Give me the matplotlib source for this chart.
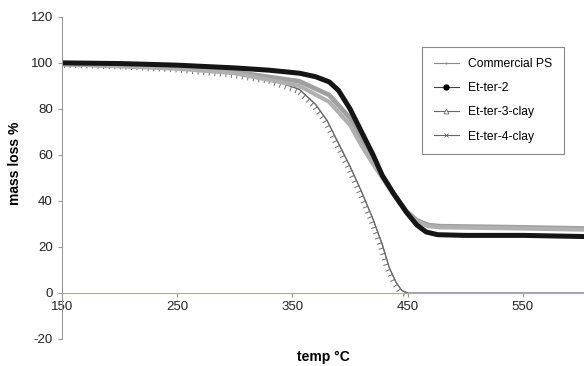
import matplotlib.pyplot as plt
import matplotlib.patheffects as pe
import numpy as np

plt.rcParams["font.family"] = ["Liberation Sans", "DejaVu Sans"]
plt.rcParams["axes.unicode_minus"] = False

# TGA curves: temperature (°C) vs remaining mass (%)
temp_ps = [150, 200, 250, 300, 330, 356, 370, 380, 390, 400, 410, 420, 428, 434, 440, 445, 450, 500, 603]
mass_ps = [100, 99.3, 98, 95.5, 93, 88.5, 82, 75, 65, 55, 44, 32, 21, 11, 4.5, 1, 0, 0, 0]

temp_et2 = [150, 200, 250, 300, 330, 356, 370, 382, 390, 400, 410, 420, 428, 438, 449, 458, 466, 476, 500, 550, 603]
mass_et2 = [100, 99.7, 99, 97.8, 96.8, 95.5, 94, 91.7, 88, 80, 70, 60, 51, 43, 35, 29.5, 26.5, 25.3, 25, 25, 24.5]

temp_et3 = [150, 250, 300, 356, 382, 400, 410, 420, 428, 438, 449, 458, 468, 478, 550, 603]
mass_et3 = [99.5, 98, 96, 92, 86, 76, 67, 58, 51, 43, 35.5, 31.5, 29.5, 29, 28.5, 28]

temp_et4 = [150, 250, 300, 356, 382, 400, 410, 420, 428, 438, 449, 458, 468, 478, 550, 603]
mass_et4 = [99.5, 97.5, 95.5, 90, 83, 73, 64, 56, 50, 42.5, 35, 31, 29, 28.5, 28, 27.5]

fig = plt.figure(figsize=(5.84, 3.66), dpi=100)
ax = fig.add_axes([0.106, 0.074, 0.894, 0.880])

# commercial PS: plain line, tick marks only along the falling part
n_fall = mass_ps.index(0) + 1
ax.plot(temp_ps, mass_ps, color="#7a7a8a", lw=0.9)
ax.plot(temp_ps[:n_fall], mass_ps[:n_fall], color="#6a6a6a", lw=0.8,
        path_effects=[pe.withTickedStroke(spacing=4, angle=-90, length=0.8, linewidth=0.7)])
ax.plot(temp_et3, mass_et3, color="#a0a0a0", lw=3.4)
ax.plot(temp_et4, mass_et4, color="#b0b0b0", lw=3.0)
ax.plot(temp_et2, mass_et2, color="#151515", lw=3.6)

# legend handles with the small markers
h_ps, = ax.plot([], [], color="#8a8a8a", lw=0.8, marker="|", ms=2)
h_e2, = ax.plot([], [], color="#444444", lw=0.8, marker="o", ms=3.5, mfc="black", mec="black")
h_e3, = ax.plot([], [], color="#666666", lw=0.8, marker="^", ms=3.5, mfc="white", mec="#666666", mew=0.6)
h_e4, = ax.plot([], [], color="#666666", lw=0.8, marker="x", ms=3.5, mec="#666666", mew=0.6)
leg = ax.legend([h_ps, h_e2, h_e3, h_e4],
                ["Commercial PS", "Et-ter-2", "Et-ter-3-clay", "Et-ter-4-clay"],
                loc="upper left", bbox_to_anchor=(0.690, 0.907), borderaxespad=0,
                fancybox=False, framealpha=1, edgecolor="#888888", fontsize=8.7,
                handlelength=2.1, labelspacing=1.0, borderpad=0.95, handletextpad=0.75)
leg.get_frame().set_linewidth(0.8)

ax.set_xlim(150, 603)
ax.set_ylim(-20, 120)
ax.set_xticks([150, 250, 350, 450, 550])
ax.set_yticks(np.arange(-20, 121, 20))
ax.spines["bottom"].set_position(("data", 0))
ax.spines["bottom"].set_color("#a8b09a")
ax.spines["left"].set_color("#999999")
ax.spines["top"].set_visible(False)
ax.spines["right"].set_visible(False)
ax.tick_params(axis="x", direction="out", length=3, color="#999999", labelsize=9.5, pad=3)
ax.tick_params(axis="y", direction="out", length=3, color="#999999", labelsize=9.5)
for lab in ax.get_xticklabels() + ax.get_yticklabels():
    lab.set_color("#222222")

ax.set_ylabel("mass loss %", fontsize=10, fontweight="bold")
ax.yaxis.set_label_coords(-0.077, 0.545)
fig.text(0.553, 0.015, "temp °C", ha="center", fontsize=10, fontweight="bold")

plt.savefig("out.png")
